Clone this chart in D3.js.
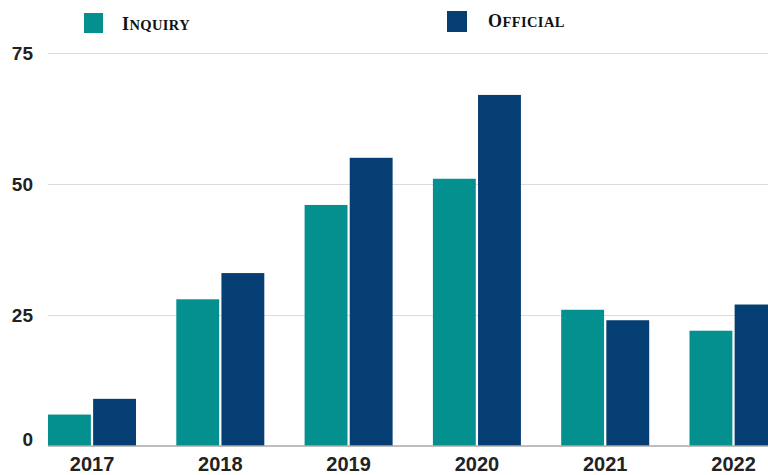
<!DOCTYPE html>
<html>
<head>
<meta charset="utf-8">
<script src="https://cdn.jsdelivr.net/npm/d3@7"></script>
<style>
  html, body { margin: 0; padding: 0; background: #fff; }
  svg { display: block; }
</style>
</head>
<body>
<svg id="chart" width="768" height="475"></svg>
<script>
// Yearly counts by type
const years = ["2017", "2018", "2019", "2020", "2021", "2022"];
const inquiry = [6, 28, 46, 51, 26, 22];
const official = [9, 33, 55, 67, 24, 27];
const seriesNames = ["Inquiry", "Official"];
const yTicks = [0, 25, 50, 75];

const colors = { Inquiry: "#03908f", Official: "#053e72" };

const svg = d3.select("#chart");
const W = 768, H = 475;

const left = 48, baseline = 446, top75 = 53;

const y = d3.scaleLinear().domain([0, 75]).range([baseline, top75]);

// Outer band: groups run past the right edge, so the last group is cut off
const step = 128.3, pIn = 0.314;
const x0 = d3.scaleBand()
  .domain(years)
  .range([left, left + step * (years.length - pIn)])
  .paddingInner(pIn)
  .paddingOuter(0);

const x1 = d3.scaleBand()
  .domain(seriesNames)
  .range([0, x0.bandwidth()])
  .paddingInner(0.05);

const rows = years.map((yr, i) => ({ year: yr, Inquiry: inquiry[i], Official: official[i] }));

// Gridlines
const grid = svg.append("g")
  .attr("transform", `translate(${left},0)`)
  .call(d3.axisLeft(y).tickValues(yTicks.filter(v => v > 0)).tickSize(-(W - left)).tickFormat(""));
grid.select(".domain").remove();
grid.selectAll("line").attr("stroke", "#dcdcdc").attr("stroke-width", 1.2);

// Bars
const groups = svg.append("g").selectAll("g")
  .data(rows)
  .join("g")
  .attr("transform", d => `translate(${x0(d.year)},0)`);

groups.selectAll("rect")
  .data(d => seriesNames.map(k => ({ key: k, value: d[k] })))
  .join("rect")
  .attr("x", d => x1(d.key))
  .attr("width", x1.bandwidth())
  .attr("y", d => y(d.value))
  .attr("height", d => y(0) - y(d.value))
  .attr("fill", d => colors[d.key]);

// Baseline
svg.append("line")
  .attr("x1", left).attr("x2", W)
  .attr("y1", y(0)).attr("y2", y(0))
  .attr("stroke", "#a9a9a9").attr("stroke-width", 1.5);

// Y axis labels
const yAxis = svg.append("g")
  .attr("transform", `translate(33,0)`)
  .call(d3.axisLeft(y).tickValues(yTicks).tickSize(0).tickPadding(0));
yAxis.select(".domain").remove();
yAxis.selectAll("text")
  .attr("font-family", "'Liberation Sans', Arial, sans-serif")
  .attr("font-weight", "bold")
  .attr("font-size", 19)
  .attr("fill", "#222")
  .attr("dy", d => d === 0 ? "-0.05em" : "0.32em");

// X axis labels
const xAxis = svg.append("g")
  .attr("transform", `translate(0,${baseline})`)
  .call(d3.axisBottom(x0).tickSize(0).tickPadding(11));
xAxis.select(".domain").remove();
xAxis.selectAll("text")
  .attr("font-family", "'Liberation Sans', Arial, sans-serif")
  .attr("font-weight", "bold")
  .attr("font-size", 20)
  .attr("fill", "#222");

// Legend with small-caps labels
const legendItems = [
  { key: "Inquiry", sx: 84, sy: 13, sw: 19, sh: 20, tx: 122, ty: 30 },
  { key: "Official", sx: 447, sy: 11, sw: 20, sh: 21, tx: 488, ty: 27 }
];
const legend = svg.append("g");
legendItems.forEach(it => {
  legend.append("rect")
    .attr("x", it.sx).attr("y", it.sy)
    .attr("width", it.sw).attr("height", it.sh)
    .attr("fill", colors[it.key]);
  const t = legend.append("text")
    .attr("x", it.tx).attr("y", it.ty)
    .attr("font-family", "'Liberation Serif', 'Times New Roman', serif")
    .attr("font-weight", "bold")
    .attr("fill", "#111")
    .attr("letter-spacing", 0.4);
  t.append("tspan").attr("font-size", 18).text(it.key[0].toUpperCase());
  t.append("tspan").attr("font-size", 14.5).text(it.key.slice(1).toUpperCase());
});
</script>
</body>
</html>
